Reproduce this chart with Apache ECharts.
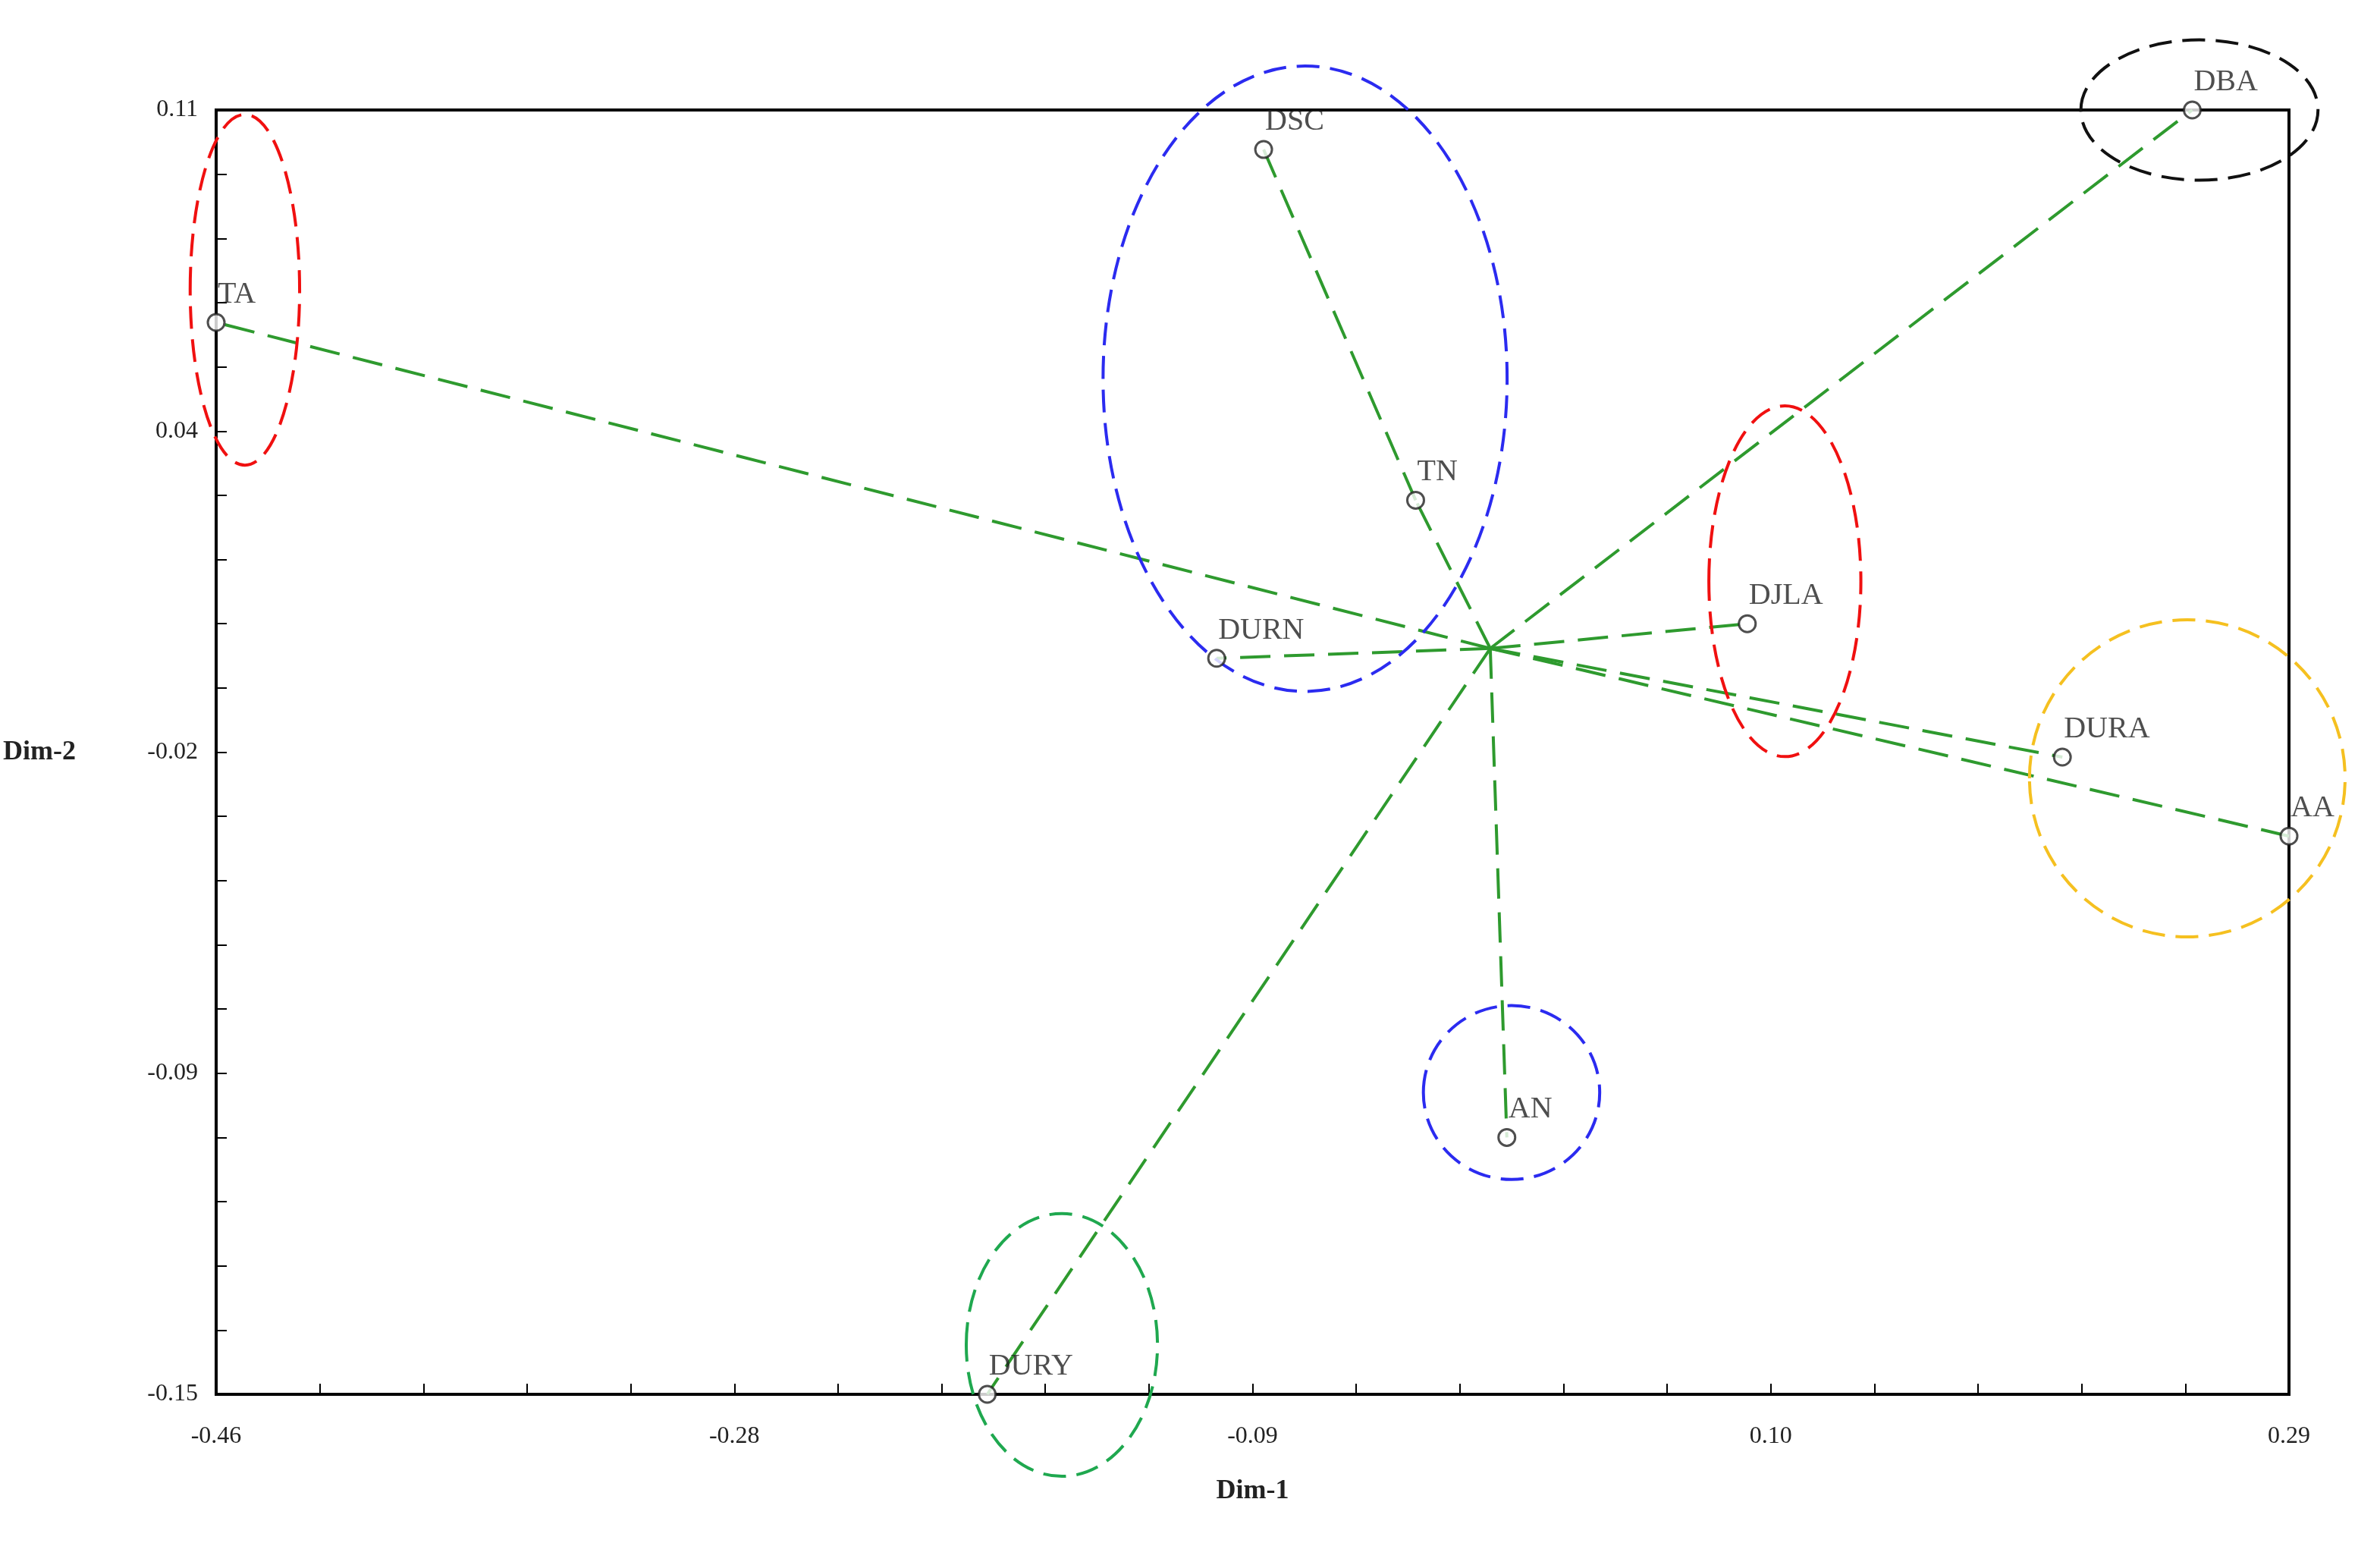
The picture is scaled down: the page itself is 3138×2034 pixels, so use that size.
<!DOCTYPE html>
<html>
<head>
<meta charset="utf-8">
<script src="https://cdn.jsdelivr.net/npm/echarts@6/dist/echarts.min.js"></script>
<style>html,body{margin:0;background:#fff}#chart{width:3138px;height:2034px}</style>
</head>
<body>
<div id="chart"></div>
<script>
// accessions and their coordinates on the first two dimensions
const names = ['DBA', 'DSC', 'TA', 'TN', 'DJLA', 'DURN', 'DURA', 'AA', 'AN', 'DURY'];
const dim1 = [0.255, -0.081, -0.46, -0.026, 0.094, -0.098, 0.208, 0.29, 0.007, -0.181];
const dim2 = [0.11, 0.102, 0.067, 0.031, 0.006, -0.001, -0.021, -0.037, -0.098, -0.15];
const hub = [0.001, 0.001];
// dendrogram-like links [from, to]
const links = [['HUB', 'TA'], ['HUB', 'AA'], ['HUB', 'DURA'], ['HUB', 'DJLA'], ['HUB', 'DURN'],
  ['HUB', 'DBA'], ['HUB', 'TN'], ['TN', 'DSC'], ['HUB', 'AN'], ['HUB', 'DURY']];
// groups: name, ellipse centre x/y, radius x/y, colour, label x/y, label colour
const groupNames = ['Group 1', 'Group 2', 'Group 3', 'Group 4', 'Group 5', 'Group 6', 'Group 7'];
const ellCx = [0.2576, 0.2532, -0.066, 0.1076, 0.0087, -0.154, -0.4496];
const ellCy = [0.110, -0.0253, 0.0556, 0.0146, -0.0889, -0.140, 0.0736];
const ellRx = [0.0429, 0.0571, 0.0731, 0.0275, 0.0319, 0.0346, 0.0198];
const ellRy = [0.0142, 0.0321, 0.0633, 0.0355, 0.0176, 0.0266, 0.0355];
const ellColor = ['#111111', '#f5c020', '#2b2bf0', '#f01010', '#2b2bf0', '#1fa84f', '#f01010'];
const labX = [0.248, 0.251, 0.034, 0.168, -0.0005, -0.1975, -0.398];
const labY = [0.0873, -0.0722, 0.0908, 0.0355, -0.0717, -0.1479, 0.0883];
const labColor = ['#f01010', '#2b2bf0', '#111111', '#f5b800', '#e87d2c', '#c00000', '#1fa84f'];
// axis ticks
const xTicks = [-0.46, -0.2725, -0.085, 0.1025, 0.29];
const xTickLabels = ['-0.46', '-0.28', '-0.09', '0.10', '0.29'];
const yTicks = [-0.15, -0.085, -0.02, 0.045, 0.11];
const yTickLabels = ['-0.15', '-0.09', '-0.02', '0.04', '0.11'];

const minorOf = ticks => {
  const out = [];
  for (let i = 0; i < ticks.length - 1; i++) {
    for (let k = 0; k < 5; k++) out.push(ticks[i] + (ticks[i + 1] - ticks[i]) * k / 5);
  }
  out.push(ticks[ticks.length - 1]);
  return out;
};
const pos = n => n === 'HUB' ? hub : [dim1[names.indexOf(n)], dim2[names.indexOf(n)]];
const serif = 'Liberation Serif';
const green = '#2e9a2e';

const chart = echarts.init(document.getElementById('chart'));
chart.setOption({
  animation: false,
  grid: { left: 285, right: 120, top: 145, bottom: 196, show: true, borderColor: '#000', borderWidth: 4 },
  xAxis: {
    type: 'value', min: -0.46, max: 0.29, name: 'Dim-1', nameLocation: 'middle', nameGap: 110,
    nameTextStyle: { fontFamily: serif, fontSize: 36, fontWeight: 'bold', color: '#222' },
    splitLine: { show: false },
    axisLine: { onZero: false, lineStyle: { color: '#000', width: 4 } },
    axisTick: { inside: true, length: 14, customValues: minorOf(xTicks), lineStyle: { color: '#000', width: 2 } },
    axisLabel: { customValues: xTicks, margin: 40, fontFamily: serif, fontSize: 32, color: '#222',
      formatter: v => xTickLabels[xTicks.findIndex(t => Math.abs(t - v) < 1e-6)] }
  },
  yAxis: {
    type: 'value', min: -0.15, max: 0.11, name: 'Dim-2', nameLocation: 'middle', nameGap: 185, nameRotate: 0,
    nameTextStyle: { fontFamily: serif, fontSize: 36, fontWeight: 'bold', color: '#222' },
    splitLine: { show: false },
    axisLine: { onZero: false, lineStyle: { color: '#000', width: 4 } },
    axisTick: { inside: true, length: 14, customValues: minorOf(yTicks), lineStyle: { color: '#000', width: 2 } },
    axisLabel: { customValues: yTicks, margin: 24, fontFamily: serif, fontSize: 32, color: '#222',
      formatter: v => yTickLabels[yTicks.findIndex(t => Math.abs(t - v) < 1e-6)] }
  },
  series: [
    {
      type: 'lines', coordinateSystem: 'cartesian2d', z: 2,
      lineStyle: { color: green, width: 4, type: [40, 18], opacity: 1 },
      data: links.map(l => ({ coords: [pos(l[0]), pos(l[1])] }))
    },
    {
      type: 'custom', z: 3, clip: false,
      data: groupNames.map((g, i) => [ellCx[i], ellCy[i], ellRx[i], ellRy[i], i]),
      renderItem: (params, api) => {
        const c = api.coord([api.value(0), api.value(1)]);
        const s = api.size([api.value(2), api.value(3)]);
        return {
          type: 'ellipse',
          shape: { cx: c[0], cy: c[1], rx: s[0], ry: s[1] },
          style: { fill: 'none', stroke: ellColor[api.value(4)], lineWidth: 4, lineDash: [30, 14] }
        };
      }
    },
    {
      type: 'scatter', z: 5, symbol: 'circle', symbolSize: 22,
      itemStyle: { color: '#fff', borderColor: '#222', borderWidth: 3 },
      label: { show: true, position: 'top', align: 'left', distance: 4, offset: [2, 0],
        fontFamily: serif, fontSize: 40, color: '#222', formatter: p => names[p.dataIndex] },
      data: names.map((n, i) => [dim1[i], dim2[i]])
    },
    {
      type: 'scatter', z: 6, symbol: 'circle', symbolSize: 1,
      itemStyle: { opacity: 0 },
      label: { show: true, position: 'inside', fontFamily: serif, fontWeight: 'bold', fontSize: 60,
        formatter: p => groupNames[p.dataIndex] },
      data: groupNames.map((g, i) => ({ value: [labX[i], labY[i]], label: { color: labColor[i] } }))
    }
  ]
});
</script>
</body>
</html>
